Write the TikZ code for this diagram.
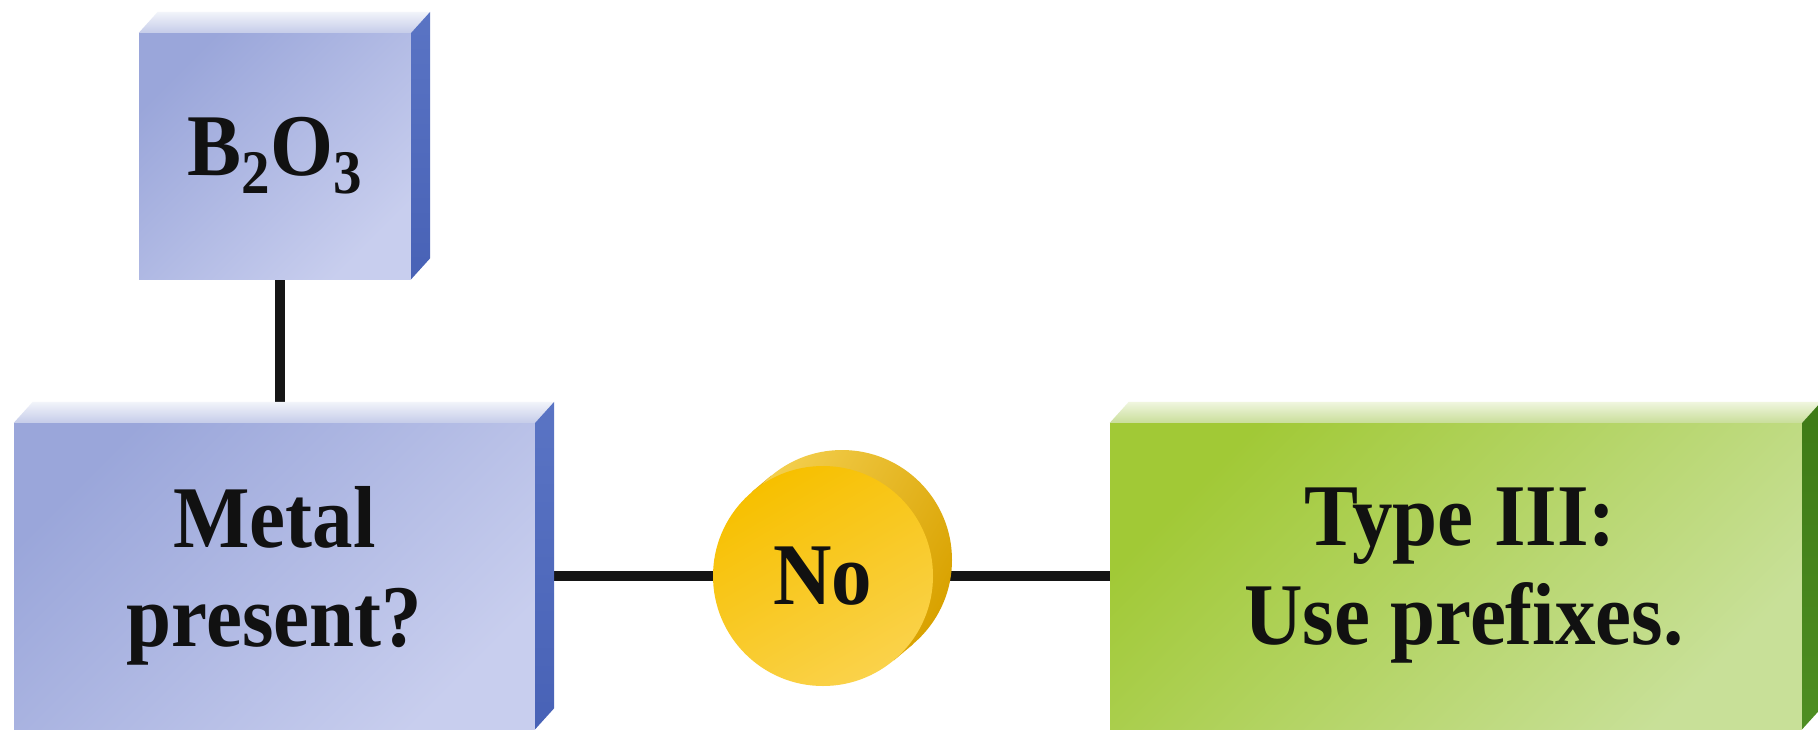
\documentclass[tikz,border=0pt]{standalone}
\usepackage{fontspec}
\newfontfamily\labfont[FakeStretch=0.92]{Liberation Serif Bold}
\usetikzlibrary{calc,backgrounds}
\definecolor{txt}{HTML}{111111}
\definecolor{linec}{HTML}{151515}
\definecolor{bfA}{HTML}{9AA6DA}
\definecolor{bfB}{HTML}{C8CEEE}
\definecolor{btA}{HTML}{F2F4FA}
\definecolor{btB}{HTML}{C5CCE9}
\definecolor{bsA}{HTML}{5A74C4}
\definecolor{bsB}{HTML}{4862B6}
\definecolor{gfA}{HTML}{A1C936}
\definecolor{gfB}{HTML}{C8E098}
\definecolor{gtA}{HTML}{F0F6DF}
\definecolor{gtB}{HTML}{C9DE9A}
\definecolor{gsA}{HTML}{3E7A16}
\definecolor{gsB}{HTML}{4E8E22}
\definecolor{yfA}{HTML}{F7C000}
\definecolor{yfB}{HTML}{FAD24A}
\definecolor{ysA}{HTML}{F4D050}
\definecolor{ysB}{HTML}{D9A200}
\definecolor{ys}{HTML}{E3AC10}
\tikzset{
  lab/.style={font=\labfont\fontsize{88}{99}\selectfont, text=txt, align=center, inner sep=0pt},
  bluefront/.style={lab, rectangle, top color=bfA, bottom color=bfB, shading angle=45},
  greenfront/.style={lab, rectangle, top color=gfA, bottom color=gfB, shading angle=45},
  coinfront/.style={lab, circle, minimum size=220pt, top color=yfA, bottom color=yfB, shading angle=30},
  coinback/.style={circle, minimum size=220pt, inner sep=0pt, top color=ysA, bottom color=ysB, shading angle=60},
  conn/.style={line width=10.5pt, draw=linec},
}
\newcommand\slabfaces[5]{%
  \shade[top color=#2, bottom color=#3]
    (#1.north west) -- ($(#1.north west)+(19,-21)$) -- ($(#1.north east)+(19,-21)$) -- (#1.north east) -- cycle;
  \shade[top color=#4, bottom color=#5]
    (#1.north east) -- ($(#1.north east)+(19,-21)$) -- ($(#1.south east)+(19,-21)$) -- (#1.south east) -- cycle;
}
\begin{document}
\begin{tikzpicture}[x=1pt, y=-1pt]
\useasboundingbox (0,0) rectangle (1818,729);

% front faces
\node[bluefront, minimum width=272pt, minimum height=246pt] (b2o3) at (275,156)
  {B\raisebox{-18pt}{\fontsize{62}{62}\selectfont 2}O\raisebox{-18pt}{\fontsize{62}{62}\selectfont 3}};
\node[bluefront, minimum width=521pt, minimum height=306pt] (metal) at (274.5,576)
  {Metal\\present?};
\node[greenfront, minimum width=692pt, minimum height=306pt] (type3) at (1456,576)
  {\hspace*{8pt}Type III:\\\hspace*{16pt}Use prefixes.};

\slabfaces{b2o3}{btA}{btB}{bsA}{bsB}
\slabfaces{metal}{btA}{btB}{bsA}{bsB}
\slabfaces{type3}{gtA}{gtB}{gsA}{gsB}

% coin
\node[coinback] (noback) at (842,560) {};
\node[coinfront] (no) at (823,576) {No};

\coordinate (vtop) at ($(b2o3.south)+(5,0)$);
\begin{scope}[on background layer]
  \fill[white] (0,0) rectangle (1818,729);
  \draw[conn] (vtop) -- (vtop |- metal.north);
  \draw[conn] (metal.east) -- (no.west);
  \draw[conn] (no.east) -- (type3.west);
  \fill[ys] (noback.130) -- ($(noback.130)+(-19,16)$) -- ($(noback.-50)+(-19,16)$) -- (noback.-50) -- cycle;
\end{scope}
\end{tikzpicture}
\end{document}
